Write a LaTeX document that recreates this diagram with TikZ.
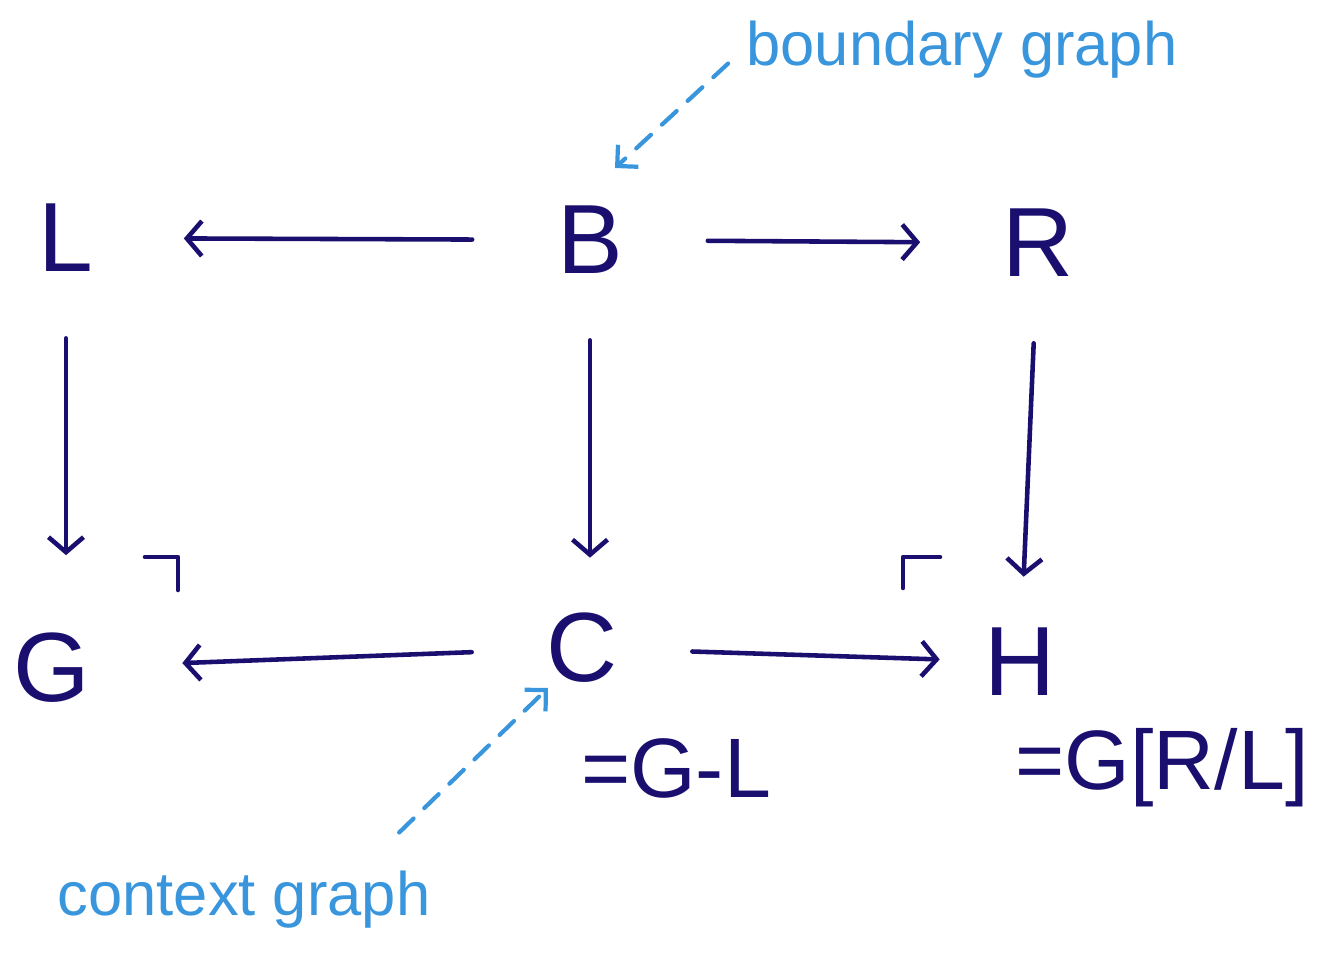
\documentclass[tikz,border=0pt]{standalone}
\usepackage{fontspec}
\setmainfont{Liberation Sans}
\usetikzlibrary{arrows.meta,positioning,calc}
\definecolor{ink}{HTML}{1A0F6E}
\definecolor{notecol}{HTML}{3A96DC}
\tikzset{
 obj/.style={text=ink,font=\fontsize{56}{60}\selectfont,minimum width=4.7cm,
             minimum height=4cm,inner sep=0pt},
 eqn/.style={text=ink,font=\fontsize{48}{52}\selectfont,inner sep=0pt},
 remark/.style={text=notecol,font=\fontsize{35}{40}\selectfont,inner sep=2pt},
 arrow/.style={-{Straight Barb[length=3mm,width=7mm]},line width=2.6pt,draw=ink,
             line cap=round},
 dasharrow/.style={-{Straight Barb[length=3mm,width=6mm]},line width=2.4pt,
             draw=notecol,dash pattern=on 4mm off 3mm,line cap=round},
 corner/.style={line width=2.6pt,draw=ink,line cap=round,line join=round}
}

\begin{document}
\begin{tikzpicture}[x=0.02cm,y=-0.02cm]
\useasboundingbox (0,0) rectangle (1319,959);
% span
\node[obj] (L) at (66,238) {L};
\node[obj] (B) at (590,240) {B};
\node[obj] (R) at (1038,243) {R};
% context and result
\node[obj,minimum width=5.2cm,minimum height=4.5cm] (G) at (52,668) {G};
\node[obj,minimum width=4.4cm,minimum height=3.6cm] (C) at (582,648) {C};
\node[obj,minimum width=3.2cm,minimum height=3.4cm] (H) at (1020,662) {H};
\node[eqn] (CG) at (676,768) {=G-L};
\node[eqn] (HG) at (1162,768) {=G[R/L]};
% notes
\node[remark] (bnd) at (962,50) {boundary graph};
\node[remark] (ctx) at (244,900) {context graph};
\coordinate (Btip) at (615,168);
\coordinate (Ctip) at (548,688);
\draw[arrow] (B)--(L);
\draw[arrow] (B)--(R);
\draw[arrow] (L)--(L |- G.north);
\draw[arrow] (B)--(B |- C.north);
\draw[arrow] (R)--(H);
\draw[arrow] (C)--(G);
\draw[arrow] (C)--(H);
\draw[dasharrow,shorten <=0.4cm] (bnd.west)--(Btip);
\draw[dasharrow] ([xshift=-0.7cm,yshift=0.7cm]ctx.north east)--(Ctip);
% pushout corners
\draw[corner] (145,557) -| (178,590);
\draw[corner] (940,557) -| (903,588);
\end{tikzpicture}
\end{document}
